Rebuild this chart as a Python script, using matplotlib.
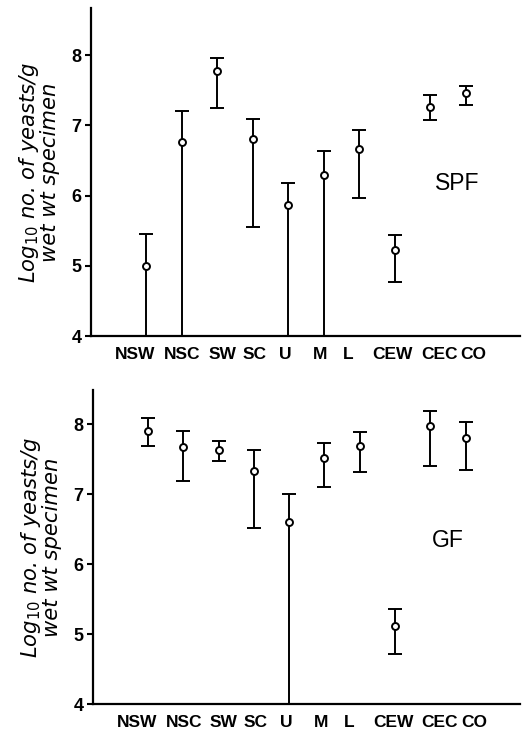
import matplotlib.pyplot as plt
import numpy as np

sites = ['NSW', 'NSC', 'SW', 'SC', 'U', 'M', 'L', 'CEW', 'CEC', 'CO']

# SPF animals
spf_mean = [5.00, 6.76, 7.77, 6.80, 5.86, 6.29, 6.67, 5.22, 7.26, 7.46]
spf_high = [5.45, 7.20, 7.96, 7.09, 6.18, 6.63, 6.93, 5.44, 7.43, 7.56]
spf_low = [4.00, 4.00, 7.25, 5.55, 4.00, 4.00, 5.97, 4.77, 7.07, 7.29]

# GF animals
gf_mean = [7.91, 7.68, 7.63, 7.33, 6.61, 7.52, 7.69, 5.12, 7.98, 7.80]
gf_high = [8.09, 7.90, 7.76, 7.63, 7.00, 7.73, 7.89, 5.36, 8.19, 8.03]
gf_low = [7.69, 7.19, 7.47, 6.52, 4.00, 7.11, 7.32, 4.72, 7.41, 7.34]

yticks = [4, 5, 6, 7, 8]

# hand-set nudges of the category labels (pixels), as in the original print
label_shift = [-11, 1, 5, 2, -3, -3, -11, -2, 9, 8]

fig = plt.figure(figsize=(5.26, 7.29), dpi=100)
ax1 = fig.add_axes([0.173, 0.539, 0.816, 0.450])
ax2 = fig.add_axes([0.177, 0.034, 0.812, 0.431])

panels = [(ax1, spf_mean, spf_high, spf_low, 'SPF', 8.67, (0.853, 0.466)),
          (ax2, gf_mean, gf_high, gf_low, 'GF', 8.49, (0.831, 0.522))]

for ax, mean, high, low, name, ytop, pos in panels:
    x = np.arange(len(sites))
    mean = np.array(mean)
    err = [mean - np.array(low), np.array(high) - mean]
    ax.errorbar(x, mean, yerr=err, fmt='o', color='black', mfc='white',
                mec='black', ms=5, mew=1.4, elinewidth=1.4, capsize=4.7,
                capthick=1.4, clip_on=False, zorder=3)
    ax.set_xlim(-1.55, 10.54)
    ax.set_ylim(4, ytop)
    ax.set_yticks(yticks)
    ax.set_yticklabels([str(t) for t in yticks], fontsize=13,
                       fontweight='bold', family='Liberation Sans')
    ax.set_xticks([])
    for i, (lab, dx) in enumerate(zip(sites, label_shift)):
        ax.annotate(lab, xy=(x[i], 0), xycoords=('data', 'axes fraction'),
                    xytext=(dx, -11), textcoords='offset pixels',
                    ha='center', va='top', fontsize=12.5, fontweight='bold',
                    family='Liberation Sans', annotation_clip=False)
    ax.tick_params(axis='y', length=4, width=1.5, direction='out', pad=3)
    for s in ['top', 'right']:
        ax.spines[s].set_visible(False)
    for s in ['left', 'bottom']:
        ax.spines[s].set_linewidth(1.6)
    ax.set_ylabel('$Log_{10}$ no. of yeasts/g\nwet wt specimen',
                  fontsize=15.2, style='italic', linespacing=0.95, labelpad=8)
    ax.text(pos[0], pos[1], name, transform=ax.transAxes, fontsize=16.5,
            family='Liberation Sans', ha='center', va='center')

fig.savefig('out.png', dpi=100)
